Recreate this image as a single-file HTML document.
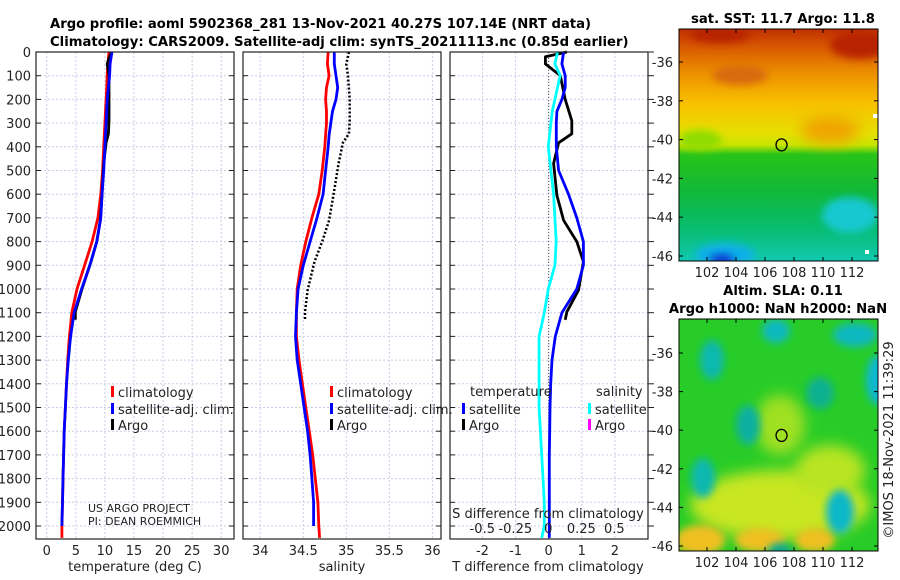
<!DOCTYPE html>
<html><head><meta charset="utf-8"><style>
html,body{margin:0;padding:0;background:#fff;}
svg{display:block;font-family:"DejaVu Sans","Liberation Sans",sans-serif;}
</style></head><body>
<svg id="fig" width="900" height="580" viewBox="0 0 900 580" xmlns="http://www.w3.org/2000/svg">
<defs>
<filter id="blur4" x="-50%" y="-50%" width="200%" height="200%"><feGaussianBlur stdDeviation="4"/></filter>
<filter id="blur7" x="-50%" y="-50%" width="200%" height="200%"><feGaussianBlur stdDeviation="7"/></filter>
<linearGradient id="sstgrad" x1="0" y1="0" x2="0" y2="1">
<stop offset="0" stop-color="#c03000"/>
<stop offset="0.08" stop-color="#d85a00"/>
<stop offset="0.2" stop-color="#ee9400"/>
<stop offset="0.32" stop-color="#f8c000"/>
<stop offset="0.45" stop-color="#e6e000"/>
<stop offset="0.5" stop-color="#c8e400"/>
<stop offset="0.54" stop-color="#28c418"/>
<stop offset="0.7" stop-color="#10b838"/>
<stop offset="0.85" stop-color="#08bc6c"/>
<stop offset="1" stop-color="#10c8b0"/>
</linearGradient>
<clipPath id="clipA"><rect x="679" y="29" width="199" height="232"/></clipPath>
<clipPath id="clipB"><rect x="679" y="319" width="199" height="232"/></clipPath>
</defs>
<text x="50" y="28" font-size="13.2" font-weight="bold" fill="#000">Argo profile: aoml 5902368_281 13-Nov-2021 40.27S 107.14E (NRT data)</text>
<text x="50" y="46" font-size="13.2" font-weight="bold" fill="#000">Climatology: CARS2009. Satellite-adj clim: synTS_20211113.nc (0.85d earlier)</text>
<g id="plots"></g>
<g id="maps">
<text x="783" y="23" font-size="13.2" font-weight="bold" text-anchor="middle">sat. SST: 11.7 Argo: 11.8</text>
<g clip-path="url(#clipA)">
<rect x="679" y="29" width="199" height="232" fill="url(#sstgrad)"/>
<ellipse cx="860" cy="45" rx="30" ry="14" fill="#b82000" filter="url(#blur4)"/>
<ellipse cx="720" cy="35" rx="30" ry="8" fill="#b82000" filter="url(#blur4)"/>
<ellipse cx="740" cy="75" rx="28" ry="10" fill="#d86a10" filter="url(#blur4)"/>
<ellipse cx="830" cy="130" rx="30" ry="14" fill="#f0a400" filter="url(#blur7)"/>
<ellipse cx="700" cy="140" rx="22" ry="10" fill="#90dc00" filter="url(#blur4)"/>
<ellipse cx="850" cy="215" rx="28" ry="18" fill="#18c8d0" filter="url(#blur4)"/>
<ellipse cx="725" cy="255" rx="30" ry="12" fill="#10b0e8" filter="url(#blur4)"/>
<ellipse cx="722" cy="260" rx="12" ry="6" fill="#0838d0" filter="url(#blur4)"/>
<rect x="873" y="114" width="5" height="4" fill="#fff"/>
<rect x="865" y="250" width="4" height="4" fill="#fff"/>
</g>
<rect x="679" y="29" width="199" height="232" fill="none" stroke="#000" stroke-width="1"/>
<text x="783" y="295" font-size="13.2" font-weight="bold" text-anchor="middle">Altim. SLA: 0.11</text>
<text x="778" y="313" font-size="13.2" font-weight="bold" text-anchor="middle">Argo h1000: NaN h2000: NaN</text>
<g clip-path="url(#clipB)">
<rect x="679" y="319" width="199" height="232" fill="#28cc28"/>
<ellipse cx="780" cy="505" rx="90" ry="35" fill="#c8e620" filter="url(#blur7)"/>
<ellipse cx="830" cy="470" rx="35" ry="25" fill="#b8e420" filter="url(#blur7)"/>
<ellipse cx="700" cy="540" rx="25" ry="15" fill="#f0c020" filter="url(#blur4)"/>
<ellipse cx="760" cy="540" rx="25" ry="12" fill="#f0c020" filter="url(#blur4)"/>
<ellipse cx="815" cy="540" rx="20" ry="12" fill="#f0c020" filter="url(#blur4)"/>
<ellipse cx="780" cy="425" rx="25" ry="30" fill="#a0e020" filter="url(#blur7)"/>
<ellipse cx="712" cy="360" rx="12" ry="20" fill="#10b8b0" filter="url(#blur4)"/>
<ellipse cx="776" cy="331" rx="14" ry="12" fill="#10b8c0" filter="url(#blur4)"/>
<ellipse cx="855" cy="335" rx="22" ry="12" fill="#10b8c0" filter="url(#blur4)"/>
<ellipse cx="878" cy="380" rx="12" ry="25" fill="#10b8d0" filter="url(#blur4)"/>
<ellipse cx="748" cy="425" rx="12" ry="20" fill="#10b0a0" filter="url(#blur4)"/>
<ellipse cx="820" cy="393" rx="14" ry="16" fill="#10b090" filter="url(#blur4)"/>
<ellipse cx="703" cy="478" rx="12" ry="20" fill="#10b8b0" filter="url(#blur4)"/>
<ellipse cx="840" cy="512" rx="14" ry="22" fill="#10b8c8" filter="url(#blur4)"/>
<ellipse cx="780" cy="551" rx="12" ry="8" fill="#10a890" filter="url(#blur4)"/>
</g>
<rect x="679" y="319" width="199" height="232" fill="none" stroke="#000" stroke-width="1"/>
<text transform="translate(893,440) rotate(-90)" font-size="13" text-anchor="middle" fill="#222">©IMOS 18-Nov-2021 11:39:29</text>
</g>
<g id="mapaxes"></g>
</svg>
<script>
// ---- data ----
const depthClim = [0,50,100,150,200,250,300,350,400,500,600,700,800,900,1000,1100,1200,1300,1400,1500,1600,1700,1800,1900,2000,2050];
const tClim = [10.7,10.5,10.4,10.3,10.2,10.1,10.0,9.9,9.8,9.6,9.3,8.8,7.8,6.5,5.2,4.3,3.9,3.6,3.4,3.2,3.0,2.9,2.8,2.7,2.6,2.6];
const tSat = [11.2,10.9,10.8,10.6,10.4,10.3,10.2,10.1,10.0,9.8,9.5,9.3,8.6,7.4,6.0,4.7,4.1,3.7,3.4,3.2,3.0,2.9,2.8,2.7,2.6,2.6];
const sClim = [34.79,34.78,34.8,34.77,34.76,34.77,34.77,34.76,34.75,34.72,34.68,34.6,34.53,34.47,34.43,34.42,34.42,34.45,34.49,34.53,34.57,34.61,34.64,34.67,34.68,34.69];
const sSat = [34.86,34.86,34.88,34.9,34.88,34.84,34.82,34.8,34.79,34.76,34.73,34.66,34.58,34.5,34.44,34.42,34.41,34.43,34.47,34.51,34.55,34.58,34.6,34.62,34.62,34.62];
const dTSat = [0.45,0.4,0.5,0.5,0.4,0.25,0.23,0.23,0.23,0.3,0.6,0.85,1.05,1.05,0.85,0.4,0.2,0.1,0.06,0.04,0.03,0.02,0.02,0.02,0.02,0.02];
const dSSat = [0.07,0.05,0.09,0.07,0.05,0.03,0.02,0.01,0.0,0.02,0.04,0.05,0.06,0.05,0.0,-0.03,-0.07,-0.07,-0.07,-0.07,-0.06,-0.05,-0.04,-0.03,-0.03,-0.05];
const depthArgo = [0,20,50,100,200,290,345,383,470,605,710,800,885,1005,1096,1130];
const tArgo = [11.2,10.8,10.4,10.7,10.7,10.7,10.6,10.2,9.8,9.5,9.2,8.6,7.6,6.0,4.9,4.9];
const sArgo = [35.03,35.02,35.0,35.02,35.04,35.04,35.03,34.96,34.91,34.85,34.8,34.72,34.63,34.55,34.52,34.52];
const dTArgo = [0.55,-0.1,-0.1,0.35,0.5,0.7,0.7,0.3,0.15,0.25,0.45,0.85,1.05,0.9,0.55,0.5];
const depthTicks = [0,100,200,300,400,500,600,700,800,900,1000,1100,1200,1300,1400,1500,1600,1700,1800,1900,2000];
const tTicks = [0,5,10,15,20,25,30];
const sTicks = [34,34.5,35,35.5,36];
const sTickLabels = ["34","34.5","35","35.5","36"];
const dtTicks = [-2,-1,0,1,2];
const dsTicks = [-0.5,-0.25,0,0.25,0.5];
const dsTickLabels = ["-0.5","-0.25","0","0.25","0.5"];
const latTicks = [-36,-38,-40,-42,-44,-46];
const lonTicks = [102,104,106,108,110,112];
const argoLon = 107.14, argoLat = -40.27;

const NS = "http://www.w3.org/2000/svg";
function mk(tag, attrs, parent){const e=document.createElementNS(NS,tag);for(const k in attrs)e.setAttribute(k,attrs[k]);parent.appendChild(e);return e;}
const plots = document.getElementById('plots');
const yTop=52, yBot=539;
const yD = d => 52 + d*(526-52)/2000;

function panel(name, x0, x1, xmin, xmax){
  const g = mk('g',{},plots);
  
  
  const sx = v => x0 + (v-xmin)*(x1-x0)/(xmax-xmin);
  return {g, sx, x0, x1};
}
function grid(p, xt, outerRight){
  xt.forEach(v=>mk('line',{x1:p.sx(v),x2:p.sx(v),y1:yTop,y2:yBot,stroke:'#c8cce8','stroke-dasharray':'2,2','stroke-width':1},p.g));
  depthTicks.forEach(d=>{
    mk('line',{x1:p.x0,x2:p.x1,y1:yD(d),y2:yD(d),stroke:'#c8cce8','stroke-dasharray':'2,2','stroke-width':1},p.g);
    mk('line',{x1:p.x0,x2:p.x0+5,y1:yD(d),y2:yD(d),stroke:'#222'},p.g);
    if(outerRight) mk('line',{x1:p.x1,x2:p.x1+6,y1:yD(d),y2:yD(d),stroke:'#222'},p.g);
    else mk('line',{x1:p.x1-5,x2:p.x1,y1:yD(d),y2:yD(d),stroke:'#222'},p.g);
  });
}
function frame(p){mk('rect',{x:p.x0,y:yTop,width:p.x1-p.x0,height:yBot-yTop,fill:'none',stroke:'#222','stroke-width':1.2},p.g);}
function line(p, xs, ds, color, name, dash){
  const pts = xs.map((v,i)=>p.sx(v).toFixed(1)+','+yD(ds[i]).toFixed(1)).join(' ');
  const e = mk('polyline',{points:pts,fill:'none',stroke:color,'stroke-width':dash?2.5:2.8,'stroke-linejoin':'round'},p.g);
  if(dash) e.setAttribute('stroke-dasharray','2,2');
  
  
}
function txt(g, x, y, s, name, size, anchor){
  const t = mk('text',{x:x,y:y,'font-size':size||13,'text-anchor':anchor||'start',fill:'#222'},g);
  t.textContent = s;
  
  
  return t;
}
function xlabels(p, ticks, labels, y, name){
  ticks.forEach((v,i)=>{
    txt(p.g, p.sx(v), y, labels ? labels[i] : String(v), name, 13, 'middle');
  });
}
function legend(g, x, y, color, label, name){
  const r = mk('rect',{x:x,y:y-10,width:3,height:11,fill:color},g);
  
  
  txt(g, x+7, y+1, label, name);
}

// Temperature panel
const p1 = panel('temperature-panel', 36, 234, -1.85, 32.2);
grid(p1, tTicks);
line(p1, tClim, depthClim, '#f00', 'temp-climatology-line');
line(p1, tArgo, depthArgo, '#000', 'temp-argo-line');
line(p1, tSat.slice(0,25), depthClim.slice(0,25), '#00f', 'temp-satellite-line');
frame(p1);
depthTicks.forEach(d=>txt(p1.g, 31, yD(d)+5, String(d), 'depth-tick-label', 13, 'end'));
xlabels(p1, tTicks, null, 555, 'temp-tick-label');
txt(p1.g, 135, 571, 'temperature (deg C)', 'temp-axis-title', 13, 'middle');
legend(p1.g, 111, 396, '#f00', 'climatology', 'legend-climatology');
legend(p1.g, 111, 413, '#00f', 'satellite-adj. clim.', 'legend-satellite');
legend(p1.g, 111, 429, '#000', 'Argo', 'legend-argo');
txt(p1.g, 88, 512, 'US ARGO PROJECT', 'project-label', 11);
txt(p1.g, 88, 525, 'PI: DEAN ROEMMICH', 'pi-label', 11);

// Salinity panel
const p2 = panel('salinity-panel', 243, 441, 33.8, 36.1);
grid(p2, sTicks);
line(p2, sClim, depthClim, '#f00', 'sal-climatology-line');
line(p2, sSat.slice(0,25), depthClim.slice(0,25), '#00f', 'sal-satellite-line');
line(p2, sArgo, depthArgo, '#000', 'sal-argo-line', true);
frame(p2);
xlabels(p2, sTicks, sTickLabels, 555, 'sal-tick-label');
txt(p2.g, 342, 571, 'salinity', 'sal-axis-title', 13, 'middle');
legend(p2.g, 330, 396, '#f00', 'climatology', 'legend-climatology');
legend(p2.g, 330, 413, '#00f', 'satellite-adj. clim.', 'legend-satellite');
legend(p2.g, 330, 429, '#000', 'Argo', 'legend-argo');

// Difference panel
const p3 = panel('difference-panel', 450, 648, -2.98, 3.0);
grid(p3, dtTicks, true);
const sxS = v => 548.3 + v*132;
mk('line',{x1:p3.sx(0),x2:p3.sx(0),y1:yTop,y2:yBot,stroke:'#555','stroke-dasharray':'1,2'},p3.g);
line(p3, dTArgo, depthArgo, '#000', 'tdiff-argo-line');
line(p3, dTSat, depthClim, '#00f', 'tdiff-satellite-line');
(function(){
  const pts = dSSat.map((v,i)=>sxS(v).toFixed(1)+','+yD(depthClim[i]).toFixed(1)).join(' ');
  const e = mk('polyline',{points:pts,fill:'none',stroke:'#0ff','stroke-width':2.8},p3.g);
  
  
})();
frame(p3);
xlabels(p3, dtTicks, null, 555, 'tdiff-tick-label');
txt(p3.g, 548, 571, 'T difference from climatology', 'tdiff-axis-title', 13, 'middle');
txt(p3.g, 548, 518, 'S difference from climatology', 'sdiff-axis-title', 13, 'middle');
dsTicks.forEach((v,i)=>txt(p3.g, sxS(v), 533, dsTickLabels[i], 'sdiff-tick-label', 13, 'middle'));
txt(p3.g, 470, 396, 'temperature', 'legend-temperature-header');
legend(p3.g, 462, 413, '#00f', 'satellite', 'legend-tdiff-satellite');
legend(p3.g, 462, 429, '#000', 'Argo', 'legend-tdiff-argo');
txt(p3.g, 596, 396, 'salinity', 'legend-salinity-header');
legend(p3.g, 588, 413, '#0ff', 'satellite', 'legend-sdiff-satellite');
legend(p3.g, 588, 429, '#f0f', 'Argo', 'legend-sdiff-argo');

// Map axes
const ma = document.getElementById('mapaxes');
function mapAxes(name, y0, y1, lat36y, lat46y){
  const g = mk('g',{},ma);
  
  
  const sx = lon => 707 + (lon-102)*14.5;
  const sy = lat => lat36y + (lat+36)*(lat46y-lat36y)/(-10);
  latTicks.forEach(l=>{
    mk('line',{x1:679,x2:683,y1:sy(l),y2:sy(l),stroke:'#000'},g);
    mk('line',{x1:874,x2:878,y1:sy(l),y2:sy(l),stroke:'#000'},g);
    txt(g, 673, sy(l)+5, String(l), 'lat-tick-label', 13, 'end');
  });
  lonTicks.forEach(l=>{
    mk('line',{x1:sx(l),x2:sx(l),y1:y1-4,y2:y1,stroke:'#000'},g);
    mk('line',{x1:sx(l),x2:sx(l),y1:y0,y2:y0+4,stroke:'#000'},g);
    txt(g, sx(l), y1+16, String(l), 'lon-tick-label', 13, 'middle');
  });
  const c = mk('ellipse',{cx:sx(argoLon),cy:sy(argoLat),rx:5.5,ry:6,fill:'none',stroke:'#000','stroke-width':1.3},g);
  
  
}
mapAxes('sst-map-axes', 29, 261, 62, 256);
mapAxes('sla-map-axes', 319, 551, 353, 546);
</script>
</body></html>
